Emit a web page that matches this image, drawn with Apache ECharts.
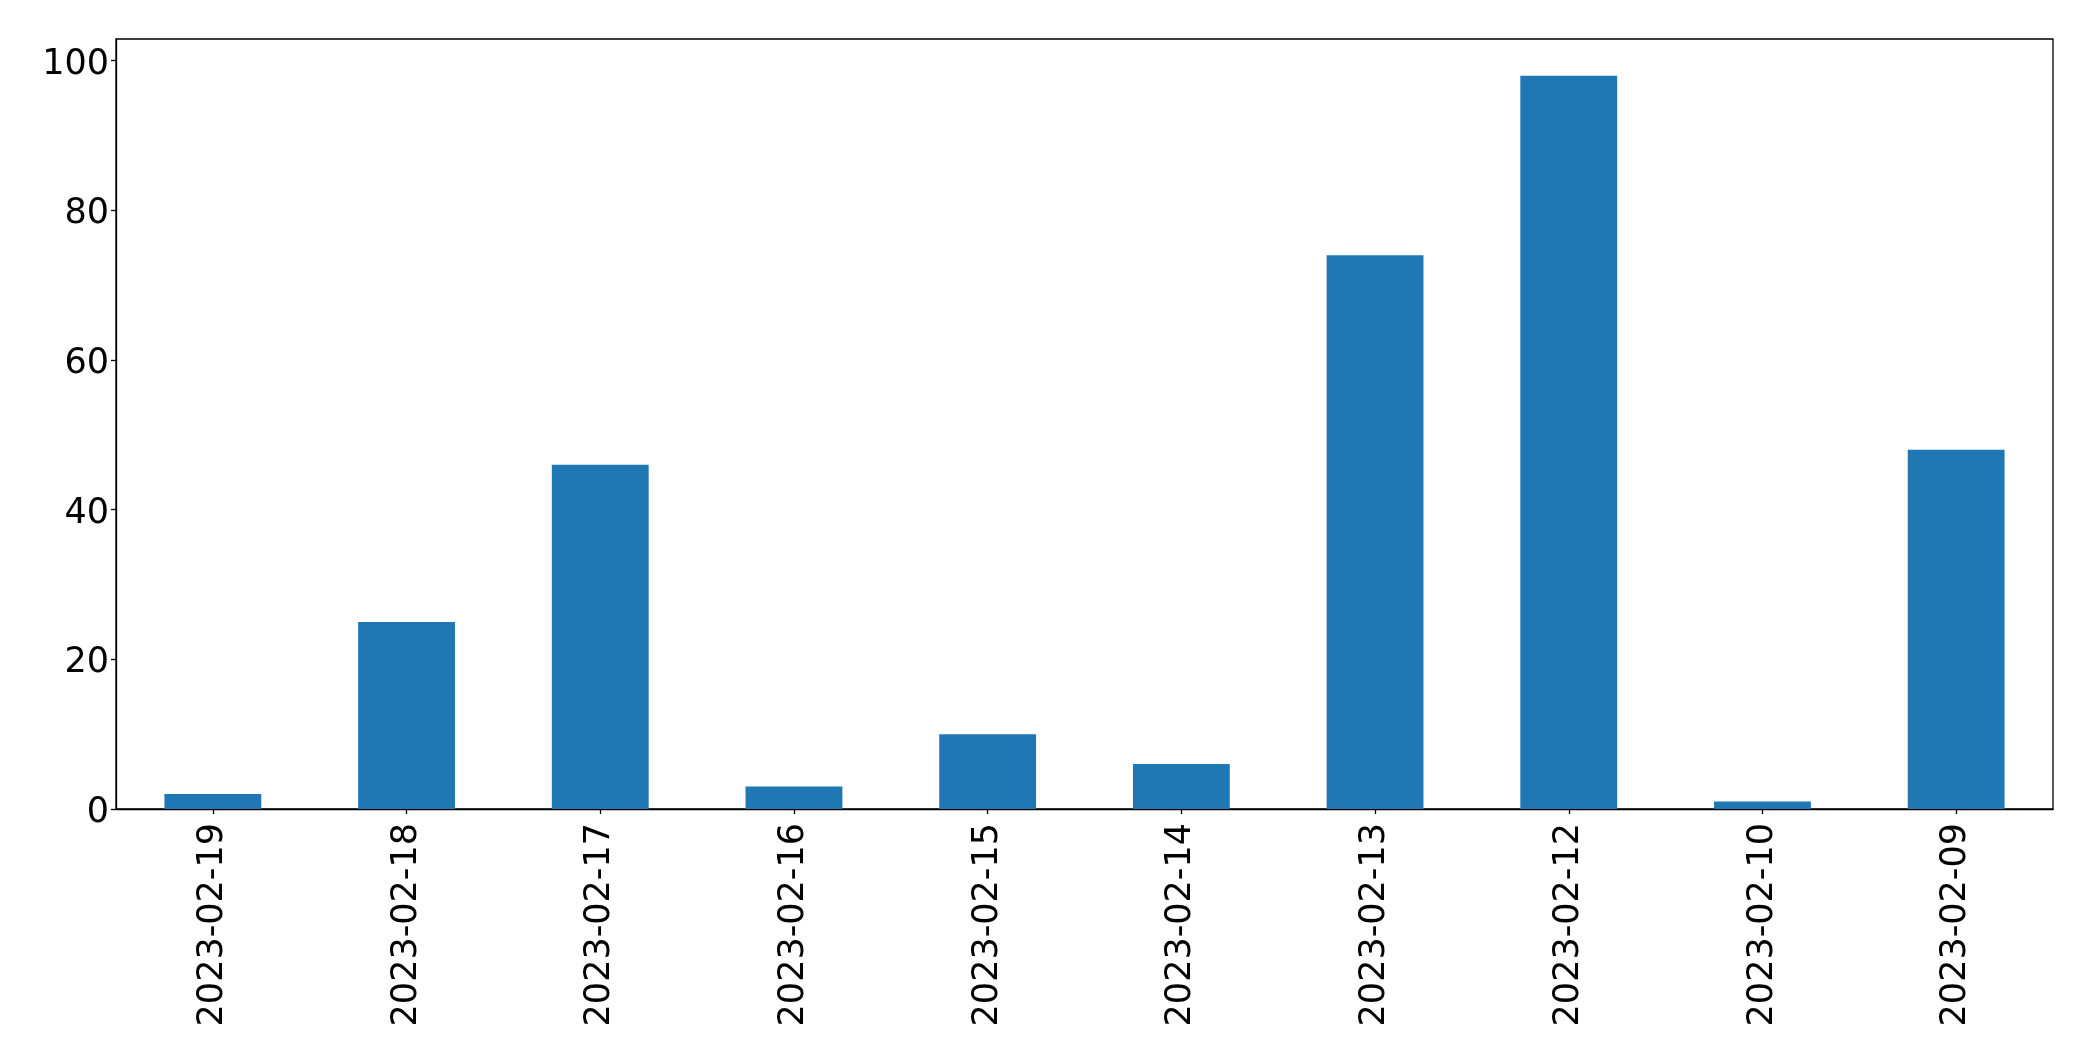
<!DOCTYPE html>
<html>
<head>
<meta charset="utf-8">
<script src="https://cdn.jsdelivr.net/npm/echarts@6/dist/echarts.min.js"></script>
<style>
html,body{margin:0;padding:0;background:#fff;}
#chart{width:2093px;height:1061px;}
</style>
</head>
<body>
<div id="chart"></div>
<script>
const categories = ['2023-02-19','2023-02-18','2023-02-17','2023-02-16','2023-02-15','2023-02-14','2023-02-13','2023-02-12','2023-02-10','2023-02-09'];
const values = [2, 25, 46, 3, 10, 6, 74, 98, 1, 48];
const yTicks = [0, 20, 40, 60, 80, 100];

const chart = echarts.init(document.getElementById('chart'));
const font = {fontFamily: 'DejaVu Sans', fontSize: 35, color: '#000'};
chart.setOption({
  animation: false,
  grid: {left: 116, right: 40, top: 39, bottom: 252, show: true, borderColor: '#000', borderWidth: 1.3, backgroundColor: 'transparent'},
  xAxis: {
    type: 'category',
    data: categories,
    boundaryGap: true,
    axisLine: {show: true, lineStyle: {color: '#000', width: 1.3}},
    axisTick: {show: true, alignWithLabel: true, length: 5, lineStyle: {color: '#000', width: 1.3}},
    axisLabel: Object.assign({rotate: 90, margin: 14, interval: 0}, font),
    splitLine: {show: false}
  },
  yAxis: {
    type: 'value',
    min: 0,
    max: 102.9,
    interval: 20,
    axisLine: {show: true, lineStyle: {color: '#000', width: 1.3}},
    axisTick: {show: true, length: 5, lineStyle: {color: '#000', width: 1.3}, customValues: yTicks},
    axisLabel: Object.assign({
      margin: 7,
      customValues: yTicks,
      formatter: function (v) { return '{a|' + v + '}'; },
      rich: {a: {fontFamily: 'DejaVu Sans', fontSize: 35, color: '#000', padding: [8, 0, 0, 0]}}
    }, font),
    splitLine: {show: false}
  },
  series: [{
    type: 'bar',
    data: values,
    barWidth: '50%',
    itemStyle: {color: '#1f77b4'}
  }]
});
</script>
</body>
</html>
